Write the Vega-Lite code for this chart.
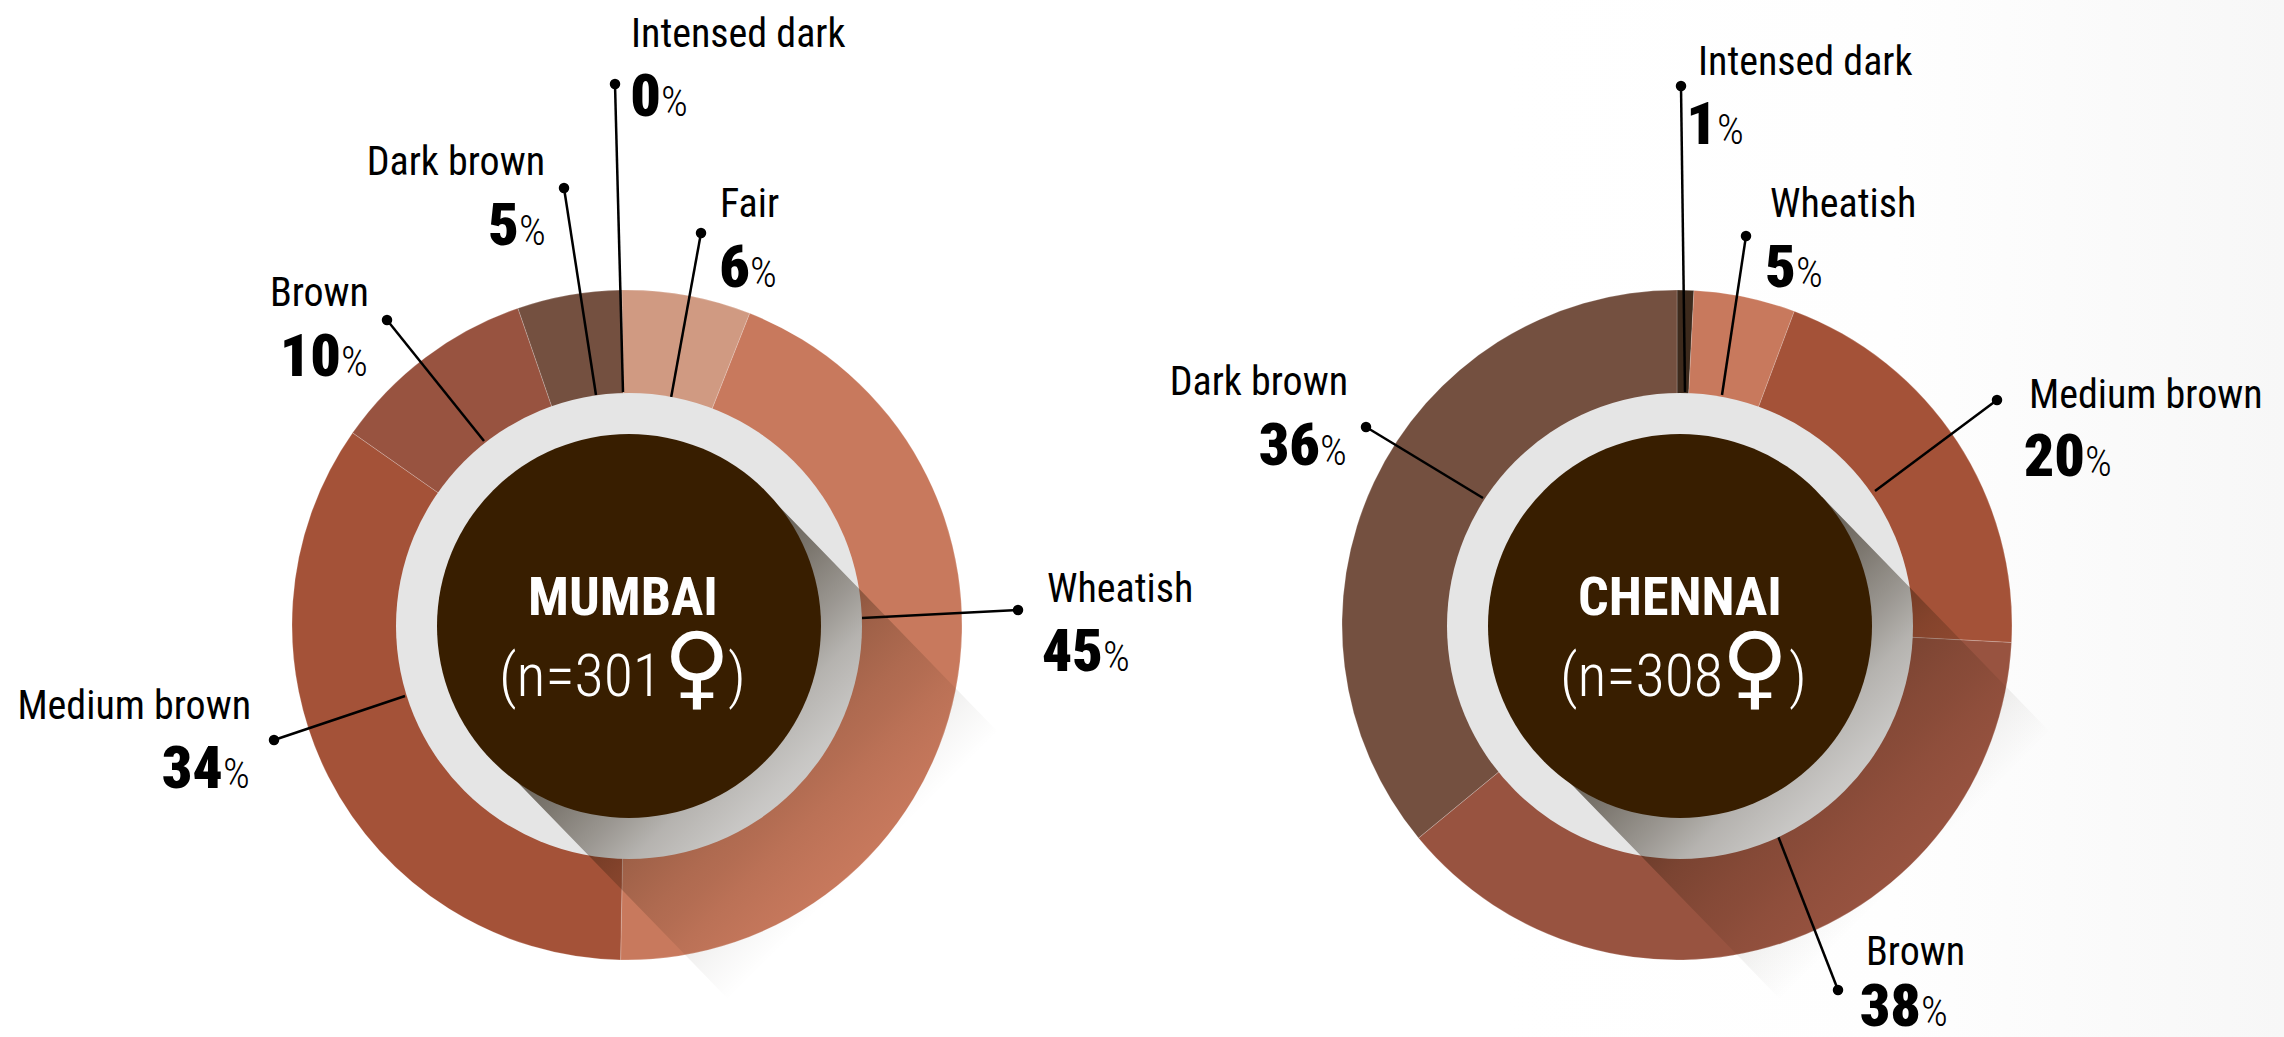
{
"$schema":"https://vega.github.io/schema/vega-lite/v6.json",
"width":2284,"height":1037,"padding":0,
"autosize":{"type":"none"},
"background":"white",
"view":{"stroke":null},
"datasets":{
"backdrop":[{"x0":1500,"x1":2284,"y0":0,"y1":1037}],
"slices":[
{"city":"Mumbai","cx":627,"cy":625,"group":"Fair","share":6,"a0":-0.9,"a1":21.5},
{"city":"Mumbai","cx":627,"cy":625,"group":"Wheatish","share":45,"a0":21.5,"a1":181.1},
{"city":"Mumbai","cx":627,"cy":625,"group":"Medium brown","share":34,"a0":181.1,"a1":305},
{"city":"Mumbai","cx":627,"cy":625,"group":"Brown","share":10,"a0":305,"a1":341},
{"city":"Mumbai","cx":627,"cy":625,"group":"Dark brown","share":5,"a0":341,"a1":359.1},
{"city":"Chennai","cx":1677,"cy":625,"group":"Intensed dark","share":1,"a0":0,"a1":2.9},
{"city":"Chennai","cx":1677,"cy":625,"group":"Wheatish","share":5,"a0":2.9,"a1":20.5},
{"city":"Chennai","cx":1677,"cy":625,"group":"Medium brown","share":20,"a0":20.5,"a1":93},
{"city":"Chennai","cx":1677,"cy":625,"group":"Brown","share":38,"a0":93,"a1":230.5},
{"city":"Chennai","cx":1677,"cy":625,"group":"Dark brown","share":36,"a0":230.5,"a1":360}
],
"labels":[
{"group":"Intensed dark","city":"Mumbai","side":"L","value":"0","tx":631,"ty":47,"sx":661,"vy":116,"dx":615,"dy":84,"ex":623,"ey":392},
{"group":"Dark brown","city":"Mumbai","side":"R","value":"5","tx":545,"ty":175,"sx":519,"vy":245,"dx":564,"dy":188,"ex":596,"ey":395},
{"group":"Fair","city":"Mumbai","side":"L","value":"6","tx":720,"ty":217,"sx":750,"vy":287,"dx":701,"dy":233,"ex":671,"ey":398},
{"group":"Brown","city":"Mumbai","side":"R","value":"10","tx":369,"ty":306,"sx":341,"vy":376,"dx":387,"dy":320,"ex":484,"ey":441},
{"group":"Wheatish","city":"Mumbai","side":"L","value":"45","tx":1047,"ty":602,"sx":1103,"vy":671,"dx":1018,"dy":610,"ex":862,"ey":618},
{"group":"Medium brown","city":"Mumbai","side":"R","value":"34","tx":251,"ty":719,"sx":223,"vy":788,"dx":274,"dy":740,"ex":405,"ey":696},
{"group":"Intensed dark","city":"Chennai","side":"L","value":"1","tx":1698,"ty":75,"sx":1717,"vy":144,"dx":1681,"dy":86,"ex":1685,"ey":392},
{"group":"Wheatish","city":"Chennai","side":"L","value":"5","tx":1770,"ty":217,"sx":1796,"vy":287,"dx":1746,"dy":236,"ex":1722,"ey":395},
{"group":"Medium brown","city":"Chennai","side":"L","value":"20","tx":2029,"ty":408,"sx":2085,"vy":476,"dx":1997,"dy":400,"ex":1875,"ey":491},
{"group":"Brown","city":"Chennai","side":"L","value":"38","tx":1866,"ty":965,"sx":1921,"vy":1026,"dx":1838,"dy":990,"ex":1778,"ey":836},
{"group":"Dark brown","city":"Chennai","side":"R","value":"36","tx":1348,"ty":395,"sx":1320,"vy":465,"dx":1366,"dy":427,"ex":1483,"ey":498}
],
"centres":[
{"city":"Mumbai","title":"MUMBAI","sample":"(n=301","gx":629,"gy":626,"tx":623,"ty":615,"nx":662,"ny":696,"vx":697,"vy":698,"px":737},
{"city":"Chennai","title":"CHENNAI","sample":"(n=308","gx":1680,"gy":626,"tx":1680,"ty":615,"nx":1723,"ny":696,"vx":1755,"vy":698,"px":1798}
],
"shadowM":[
{"sx":490,"top":754,"bottom":754},
{"sx":729,"top":535,"bottom":1000},
{"sx":770,"top":497,"bottom":959},
{"sx":998,"top":732,"bottom":732}
],
"shadowC":[
{"sx":1542,"top":754,"bottom":754},
{"sx":1781,"top":535,"bottom":1000},
{"sx":1822,"top":497,"bottom":959},
{"sx":2050,"top":732,"bottom":732}
]
},
"data":{"name":"slices"},
"encoding":{
"x":{"type":"quantitative","scale":{"domain":[0,2284],"nice":false,"zero":false},"axis":null},
"y":{"type":"quantitative","scale":{"domain":[1037,0],"nice":false,"zero":false},"axis":null}
},
"layer":[
{"data":{"name":"backdrop"},"mark":{"type":"rect","fill":{"gradient":"linear","x1":0,"y1":0.5,"x2":1,"y2":0.5,"stops":[{"offset":0,"color":"#FFFFFF"},{"offset":0.5,"color":"#FEFEFE"},{"offset":1,"color":"#F7F7F7"}]}},
 "encoding":{"x":{"field":"x0"},"x2":{"field":"x1"},"y":{"field":"y0"},"y2":{"field":"y1"}}},
{"mark":{"type":"arc","radius":335,"radius2":225,"stroke":"#FFFFFF","strokeOpacity":0.2,"strokeWidth":1},
 "encoding":{
  "x":{"field":"cx"},"y":{"field":"cy"},
  "theta":{"field":"a0","type":"quantitative","stack":null,"scale":{"domain":[0,360],"range":[0,6.283185]}},
  "theta2":{"field":"a1"},
  "color":{"field":"group","type":"nominal","legend":null,"scale":{"domain":["Fair","Wheatish","Medium brown","Brown","Dark brown","Intensed dark"],"range":["#D09A82","#C8795D","#A45238","#985340","#745040","#3D2A1C"]}}
 }},
{"data":{"name":"labels"},"mark":{"type":"rule","color":"#000000","strokeWidth":2.5},
 "encoding":{"x":{"field":"dx"},"y":{"field":"dy"},"x2":{"field":"ex"},"y2":{"field":"ey"}}},
{"data":{"name":"labels"},"mark":{"type":"point","shape":"circle","filled":true,"color":"#000000","opacity":1,"size":110},
 "encoding":{"x":{"field":"dx"},"y":{"field":"dy"}}},
{"data":{"name":"centres"},"mark":{"type":"point","shape":"circle","filled":true,"color":"#E5E5E5","opacity":1,"size":217156},
 "encoding":{"x":{"field":"gx"},"y":{"field":"gy"}}},
{"data":{"name":"shadowM"},"mark":{"type":"area","interpolate":"linear","fill":{"gradient":"linear","x1":0,"y1":0,"x2":1,"y2":1,"stops":[
  {"offset":0.25,"color":"rgba(30,20,5,0.72)"},
  {"offset":0.32,"color":"rgba(30,20,5,0.6)"},
  {"offset":0.37,"color":"rgba(30,20,5,0.52)"},
  {"offset":0.445,"color":"rgba(30,20,5,0.37)"},
  {"offset":0.5,"color":"rgba(30,20,5,0.24)"},
  {"offset":0.53,"color":"rgba(30,20,5,0.2)"},
  {"offset":0.57,"color":"rgba(30,20,5,0.15)"},
  {"offset":0.6,"color":"rgba(30,20,5,0.12)"},
  {"offset":0.635,"color":"rgba(30,20,5,0.08)"},
  {"offset":0.68,"color":"rgba(30,20,5,0.04)"},
  {"offset":0.735,"color":"rgba(30,20,5,0)"}]}},
 "encoding":{"x":{"field":"sx"},"y":{"field":"top","stack":null},"y2":{"field":"bottom"}}},
{"data":{"name":"shadowC"},"mark":{"type":"area","interpolate":"linear","fill":{"gradient":"linear","x1":0,"y1":0,"x2":1,"y2":1,"stops":[
  {"offset":0.25,"color":"rgba(30,20,5,0.72)"},
  {"offset":0.32,"color":"rgba(30,20,5,0.6)"},
  {"offset":0.37,"color":"rgba(30,20,5,0.52)"},
  {"offset":0.445,"color":"rgba(30,20,5,0.37)"},
  {"offset":0.5,"color":"rgba(30,20,5,0.24)"},
  {"offset":0.53,"color":"rgba(30,20,5,0.2)"},
  {"offset":0.57,"color":"rgba(30,20,5,0.15)"},
  {"offset":0.6,"color":"rgba(30,20,5,0.12)"},
  {"offset":0.635,"color":"rgba(30,20,5,0.08)"},
  {"offset":0.68,"color":"rgba(30,20,5,0.04)"},
  {"offset":0.735,"color":"rgba(30,20,5,0)"}]}},
 "encoding":{"x":{"field":"sx"},"y":{"field":"top","stack":null},"y2":{"field":"bottom"}}},
{"data":{"name":"centres"},"mark":{"type":"point","shape":"circle","filled":true,"color":"#381E00","opacity":1,"size":147456},
 "encoding":{"x":{"field":"gx"},"y":{"field":"gy"}}},
{"data":{"name":"centres"},"mark":{"type":"text","font":"Roboto Condensed, Lato","fontWeight":700,"fontSize":54,"color":"#FFFFFF","align":"center","baseline":"alphabetic"},
 "encoding":{"x":{"field":"tx"},"y":{"field":"ty"},"text":{"field":"title"}}},
{"data":{"name":"centres"},"mark":{"type":"text","font":"Roboto Condensed, Lato","fontWeight":300,"fontSize":60,"color":"#FFFFFF","align":"right","baseline":"alphabetic"},
 "encoding":{"x":{"field":"nx"},"y":{"field":"ny"},"text":{"field":"sample"}}},
{"data":{"name":"centres"},"mark":{"type":"text","font":"DejaVu Sans","fontWeight":"bold","fontSize":92,"color":"#FFFFFF","align":"center","baseline":"alphabetic","text":"♀"},
 "encoding":{"x":{"field":"vx"},"y":{"field":"vy"}}},
{"data":{"name":"centres"},"mark":{"type":"text","font":"Roboto Condensed, Lato","fontWeight":300,"fontSize":60,"color":"#FFFFFF","align":"center","baseline":"alphabetic","text":")"},
 "encoding":{"x":{"field":"px"},"y":{"field":"ny"}}},
{"data":{"name":"labels"},"transform":[{"filter":"datum.side=='L'"}],"mark":{"type":"text","font":"Roboto Condensed, Lato","fontSize":40,"color":"#000000","align":"left","baseline":"alphabetic"},
 "encoding":{"x":{"field":"tx"},"y":{"field":"ty"},"text":{"field":"group"}}},
{"data":{"name":"labels"},"transform":[{"filter":"datum.side=='R'"}],"mark":{"type":"text","font":"Roboto Condensed, Lato","fontSize":40,"color":"#000000","align":"right","baseline":"alphabetic"},
 "encoding":{"x":{"field":"tx"},"y":{"field":"ty"},"text":{"field":"group"}}},
{"data":{"name":"labels"},"mark":{"type":"text","font":"Roboto Condensed, Lato","fontWeight":900,"fontSize":60,"color":"#000000","align":"right","baseline":"alphabetic"},
 "encoding":{"x":{"field":"sx"},"y":{"field":"vy"},"text":{"field":"value"}}},
{"data":{"name":"labels"},"mark":{"type":"text","font":"Roboto Condensed, Lato","fontWeight":300,"fontSize":42,"color":"#000000","align":"left","baseline":"alphabetic","text":"%"},
 "encoding":{"x":{"field":"sx"},"y":{"field":"vy"}}}
]
}
